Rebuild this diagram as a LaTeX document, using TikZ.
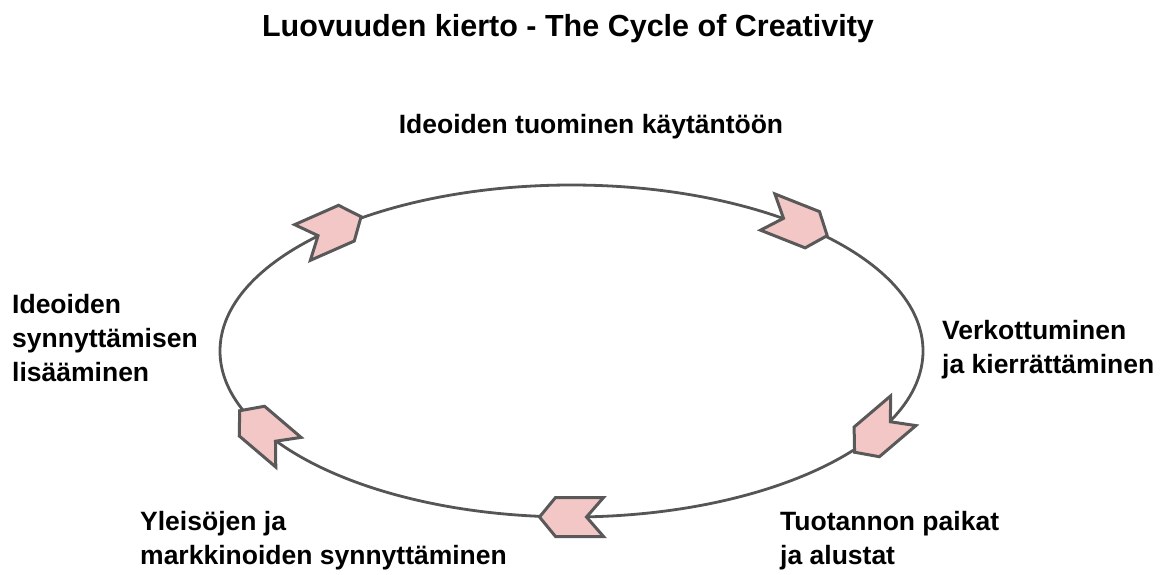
\documentclass[tikz,border=0pt]{standalone}
\usepackage{fontspec}
\setmainfont{Liberation Sans}
\definecolor{ringcol}{HTML}{555555}
\definecolor{chevline}{HTML}{595959}
\definecolor{chevfill}{HTML}{F4C7C7}
\tikzset{
  ring/.style={draw=ringcol, line width=2.8pt},
  chevshape/.style={draw=chevline, fill=chevfill, line width=3pt, line join=miter},
  chev/.pic={\path[chevshape] (32,0) -- (16,19.5) -- (-32,19.5) -- (-15,0) -- (-32,-19.5) -- (16,-19.5) -- cycle;},
  title/.style={font=\fontsize{30.5}{36}\selectfont\bfseries, inner sep=0pt},
  lbl/.style={font=\fontsize{26.5}{34}\selectfont\bfseries, inner sep=0pt, align=left}
}
\begin{document}
\begin{tikzpicture}[x=1pt,y=1pt]
\useasboundingbox (0,0) rectangle (1164,-574);
\coordinate (c) at (571.5,-351);
\draw[ring] (c) ellipse [x radius=351.5, y radius=166];
\foreach \t in {133,50,-29,-90,209}{
  \pgfmathsetmacro{\px}{571.5+351.5*cos(\t)}
  \pgfmathsetmacro{\py}{-351+166*sin(\t)}
  \pgfmathsetmacro{\ang}{atan2(-166*cos(\t),351.5*sin(\t))}
  \pic[rotate=\ang] at (\px,\py) {chev};
}
\node[title] (ttl) at (568,-29) {Luovuuden kierto - The Cycle of Creativity};
\node[lbl, anchor=center] (top) at (591,-127) {Ideoiden tuominen käytäntöön};
\node[lbl, anchor=west] (left) at (12,-338) {Ideoiden\\synnyttämisen\\lisääminen};
\node[lbl, anchor=west] (right) at (942,-350) {Verkottuminen\\ja kierrättäminen};
\node[lbl, anchor=west] (br) at (780,-541) {Tuotannon paikat\\ja alustat};
\node[lbl, anchor=west] (bl) at (140,-541) {Yleisöjen ja\\markkinoiden synnyttäminen};
\end{tikzpicture}
\end{document}
